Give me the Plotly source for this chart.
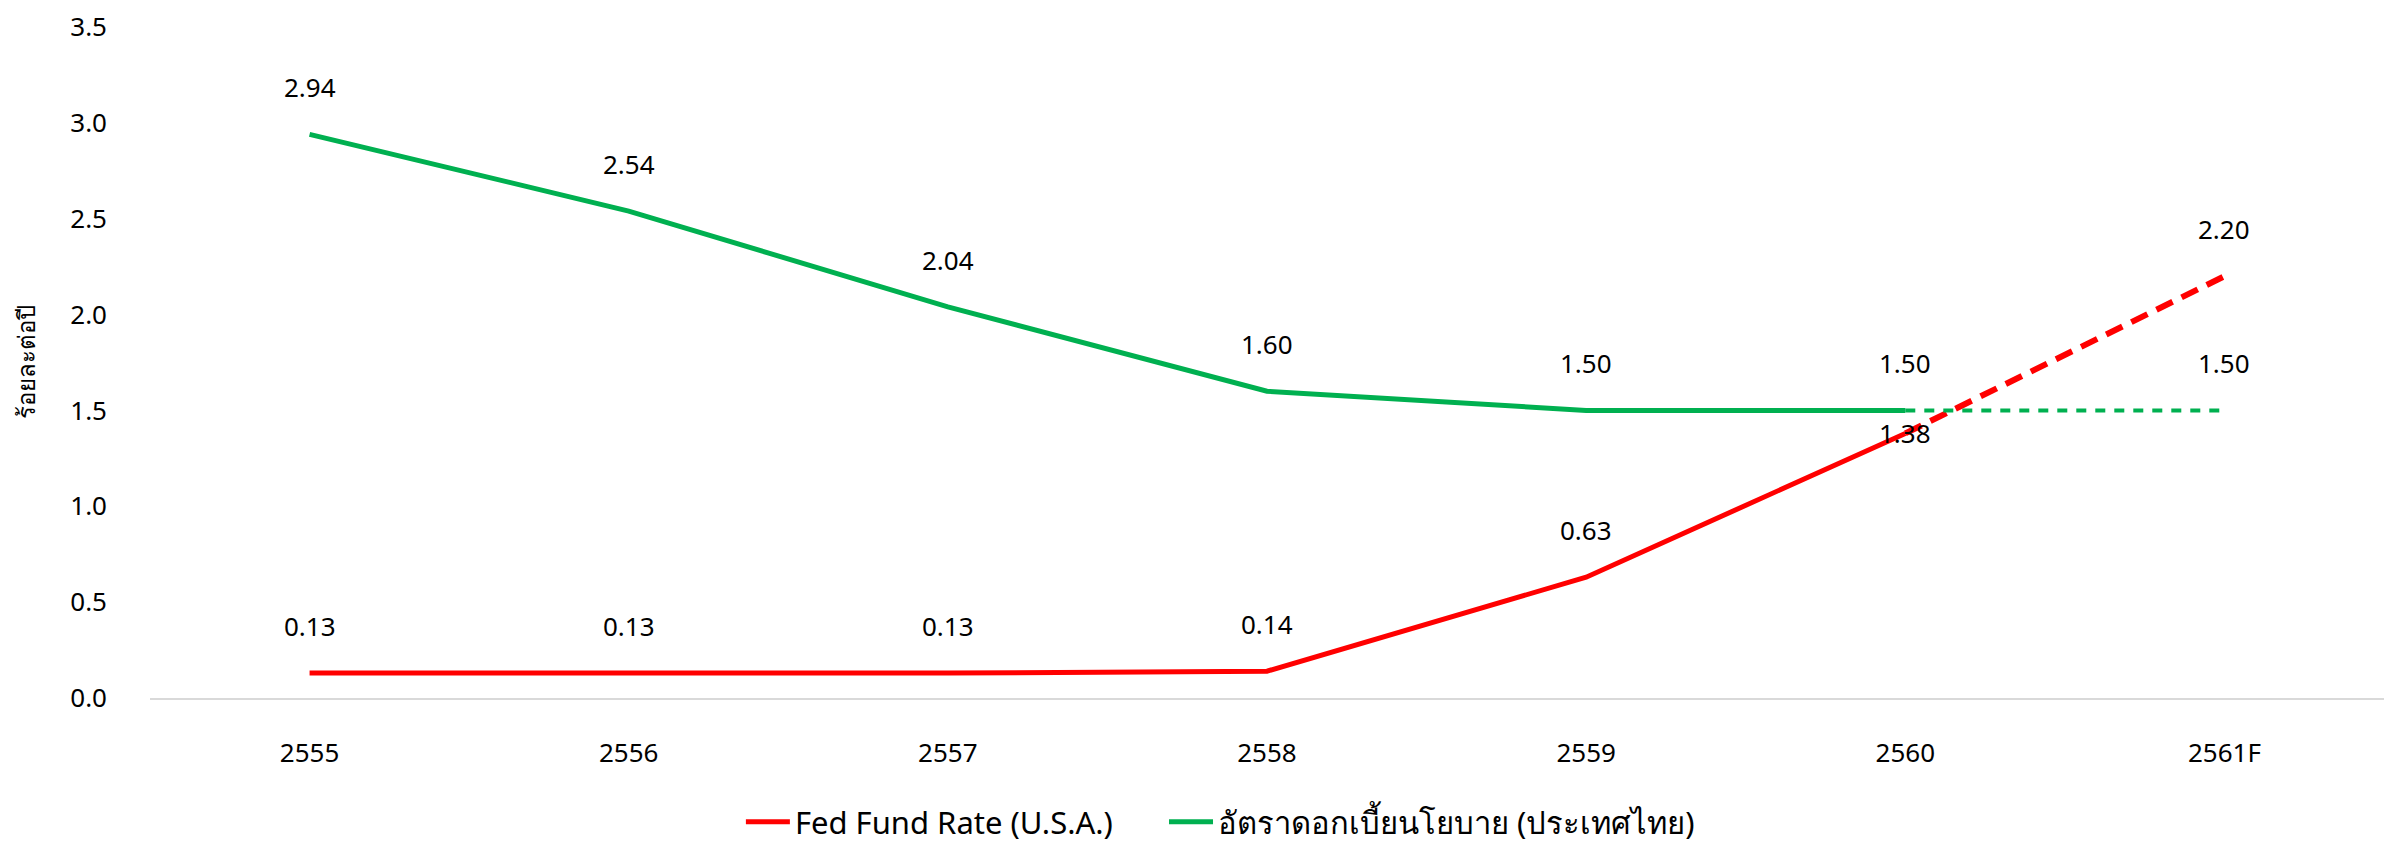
import plotly.graph_objects as go

years = ["2555", "2556", "2557", "2558", "2559", "2560", "2561F"]
fed_rate = [0.13, 0.13, 0.13, 0.14, 0.63, 1.38, 2.20]
thai_rate = [2.94, 2.54, 2.04, 1.60, 1.50, 1.50, 1.50]
fed_label_shift = [47, 47, 47, 47, 47, 0, 47]
thai_label_shift = [47, 47, 47, 47, 47, 47, 47]

FONT = "Noto Sans, Tahoma, sans-serif"
RED = "#ff0000"
GREEN = "#00b050"

fig = go.Figure()
# actual (solid) parts
fig.add_trace(go.Scatter(x=years[:6], y=fed_rate[:6], mode="lines",
                         name="Fed Fund Rate (U.S.A.)", legend="legend",
                         line=dict(color=RED, width=5)))
fig.add_trace(go.Scatter(x=years[:6], y=thai_rate[:6], mode="lines",
                         name="อัตราดอกเบี้ยนโยบาย (ประเทศไทย)", legend="legend2",
                         line=dict(color=GREEN, width=5)))
# forecast (dashed) parts
fig.add_trace(go.Scatter(x=years[5:], y=fed_rate[5:], mode="lines", showlegend=False,
                         line=dict(color=RED, width=6, dash="18px,10px")))
fig.add_trace(go.Scatter(x=years[5:], y=thai_rate[5:], mode="lines", showlegend=False,
                         line=dict(color=GREEN, width=4, dash="10px,9px")))

# data labels (category axis positions are given by index)
for i, (v, s) in enumerate(zip(fed_rate, fed_label_shift)):
    fig.add_annotation(x=i, y=v, xref="x", yref="y", text=f"{v:.2f}",
                       showarrow=False, yshift=s,
                       font=dict(size=26, color="#000000", family=FONT))
for i, (v, s) in enumerate(zip(thai_rate, thai_label_shift)):
    fig.add_annotation(x=i, y=v, xref="x", yref="y", text=f"{v:.2f}",
                       showarrow=False, yshift=s,
                       font=dict(size=26, color="#000000", family=FONT))

legend_common = dict(orientation="h", yref="container", y=0.0263, yanchor="middle",
                     xanchor="left", font=dict(size=31), itemwidth=44,
                     bgcolor="rgba(0,0,0,0)")

# the page body has an 8px default margin, so the figure is 8px smaller than the window
fig.update_layout(
    width=2387, height=836,
    margin=dict(l=142, r=11, t=19, b=146),
    paper_bgcolor="white", plot_bgcolor="white",
    font=dict(family=FONT, size=25, color="#000000"),
    showlegend=True,
    legend=dict(x=0.2645, **legend_common),
    legend2=dict(x=0.4539, **legend_common),
)
fig.update_xaxes(type="category", range=[-0.5, 6.5], showgrid=False, zeroline=False,
                 showline=True, linecolor="#d9d9d9", linewidth=2, ticks="",
                 automargin=False, ticklabelstandoff=31, tickfont=dict(size=26))
fig.update_yaxes(range=[0, 3.5], dtick=0.5, tickformat=".1f", showgrid=False,
                 zeroline=False, showline=False, ticks="", ticklabelstandoff=42,
                 automargin=False, ticklabeloverflow="allow", tickfont=dict(size=26),
                 title=dict(text="ร้อยละต่อปี", font=dict(size=24), standoff=27))

fig.write_html("out.html")
